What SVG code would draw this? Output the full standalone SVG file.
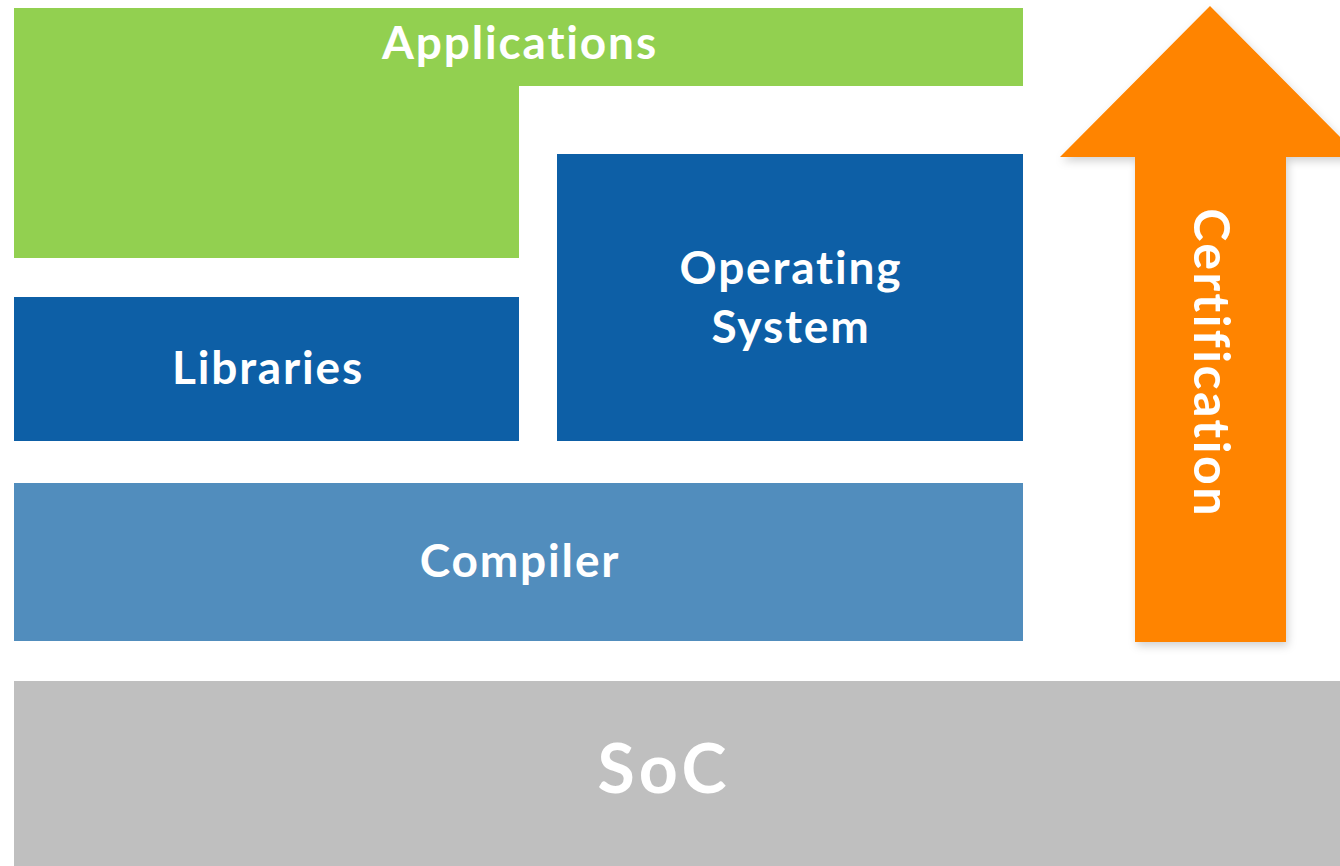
<svg xmlns="http://www.w3.org/2000/svg" width="1340" height="866" viewBox="0 0 1340 866">
<defs>
<style>
.lbl{font-family:Lato,"Open Sans","DejaVu Sans",sans-serif;font-weight:700;fill:#ffffff;text-anchor:middle;font-size:46px;letter-spacing:0.04em;font-variant-ligatures:none;font-feature-settings:"liga" 0}
.dark{fill:#0D5FA6}
</style>
<filter id="sh" x="-20%" y="-10%" width="140%" height="120%">
<feDropShadow dx="2" dy="4" stdDeviation="4" flood-color="#000" flood-opacity="0.18"/>
</filter>
</defs>
<rect width="1340" height="866" fill="#ffffff"/>
<g id="applications">
<path d="M14 8H1023V86H519V258H14Z" fill="#92D050"/>
<text class="lbl" x="520" y="59">Applications</text>
</g>
<g id="libraries">
<rect class="dark" x="14" y="297" width="505" height="144"/>
<text class="lbl" x="268" y="384">Libraries</text>
</g>
<g id="operating-system">
<rect class="dark" x="557" y="154" width="466" height="287"/>
<text class="lbl" x="791" y="284">Operating</text>
<text class="lbl" x="791" y="343">System</text>
</g>
<g id="compiler">
<rect x="14" y="483" width="1009" height="158" fill="#518DBD"/>
<text class="lbl" x="520" y="577">Compiler</text>
</g>
<g id="soc">
<rect x="14" y="681" width="1326" height="185" fill="#BFBFBF"/>
<text class="lbl" x="664" y="793" style="font-size:68px;letter-spacing:0.06em">SoC</text>
</g>
<g id="certification">
<path d="M1210 6L1360 157H1286V642H1135V157H1060Z" fill="#FF8400" filter="url(#sh)"/>
<text class="lbl" transform="translate(1194 363) rotate(90)" x="0" y="0" style="font-size:50px;letter-spacing:0.05em">Certification</text>
</g>
<g id="connectors"></g>
</svg>
